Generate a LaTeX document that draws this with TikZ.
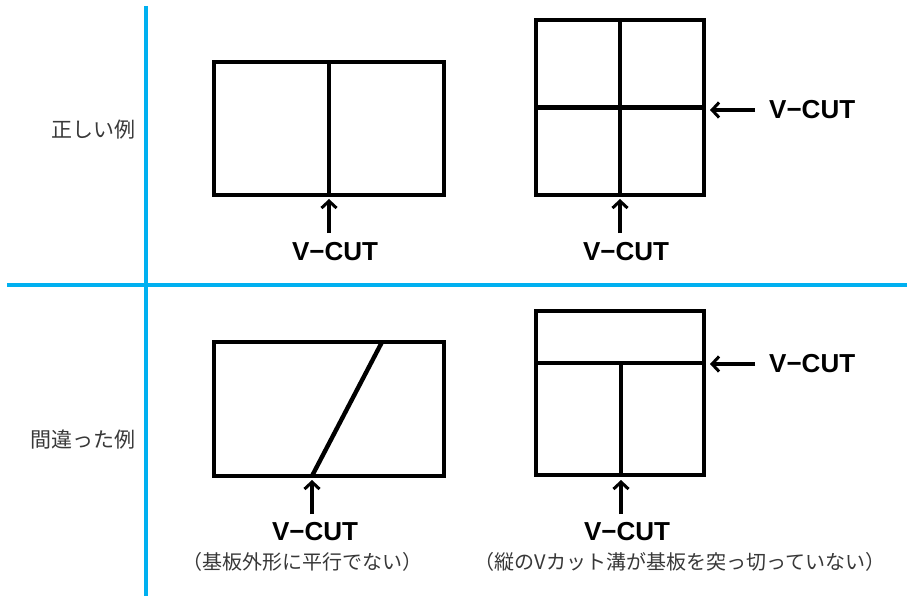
\documentclass[tikz,border=0pt]{standalone}
\usepackage{fontspec}
\setmainfont{Liberation Sans}
\newfontfamily\jp{Noto Sans CJK JP}
\usetikzlibrary{arrows.meta,positioning}
\definecolor{sep}{RGB}{0,176,240}
\definecolor{jpgray}{RGB}{56,56,56}
\tikzset{pcb/.style={draw,line width=4.4pt,inner sep=0pt,outer sep=0pt},cutline/.style={line width=4.4pt},
 arr/.style={-{Straight Barb[length=7pt,width=15pt,line width=3pt]},line width=3.4pt},
 vcut/.style={font=\fontsize{26}{26}\selectfont\bfseries,inner sep=0pt},
 note/.style={font=\jp\fontsize{20}{20}\selectfont,text=jpgray,inner sep=0pt},
 row/.style={font=\jp\fontsize{21}{21}\selectfont,text=jpgray,inner sep=0pt,anchor=east},
 rule/.style={sep,line width=4.4pt}}
\newcommand{\cutlabel}{V−CUT}
\begin{document}
\begin{tikzpicture}[x=1pt,y=-1pt]
\useasboundingbox(0,0)rectangle(907,596);
% separators
\coordinate(vt)at(146,6);\coordinate(vb)at(146,596);\coordinate(hl)at(7,285);\coordinate(hr)at(907,285);
\draw[rule](vt)--(vb);\draw[rule](hl)--(hr);
\node[row](good)at(136,130){正しい例};\node[row](bad)at(136,440){間違った例};
% boards
\node[pcb,minimum width=230pt,minimum height=133pt](A)at(329,128.5){};
\node[pcb,minimum width=168pt,minimum height=175pt](B)at(620,107.5){};
\node[pcb,minimum width=230pt,minimum height=134pt](C)at(329,409){};
\node[pcb,minimum width=168pt,minimum height=164pt](D)at(620,393){};
\coordinate(c1)at(312,476);\coordinate(c2)at(382,342);\coordinate(d1)at(536,363);\coordinate(d2)at(704,363);
\coordinate(d3)at(621,363);\coordinate(d4)at(621,475);
\draw[cutline](A.north)--(A.south);\draw[cutline](B.north)--(B.south);\draw[cutline](B.west)--(B.east);
\draw[cutline](c1)--(c2);\draw[cutline](d1)--(d2);\draw[cutline](d3)--(d4);
% labels
\node[vcut](la)at(335,252){\cutlabel};\node[vcut](lb)at(626,252){\cutlabel};
\node[vcut,anchor=west](rb)at(769,110){\cutlabel};
\node[vcut](lc)at(315,532){\cutlabel};\node[vcut](ld)at(627,532){\cutlabel};
\node[vcut,anchor=west](rd)at(769,364){\cutlabel};
\node[note](nc)at(302,562){（基板外形に平行でない）};
\node[note](nd)at(680,562){（縦のVカット溝が基板を突っ切っていない）};
% arrows
\foreach\s/\t/\x/\y in{a1/a2/329/199,b1/b2/620/199,e1/e2/312/480,f1/f2/621/480}{
 \coordinate(\s)at(\x,\y+34);\coordinate(\t)at(\x,\y);\draw[arr](\s)--(\t);}
\foreach\s/\t/\y in{g1/g2/110,h1/h2/364}{
 \coordinate(\s)at(755,\y);\coordinate(\t)at(710,\y);\draw[arr](\s)--(\t);}
\end{tikzpicture}
\end{document}
